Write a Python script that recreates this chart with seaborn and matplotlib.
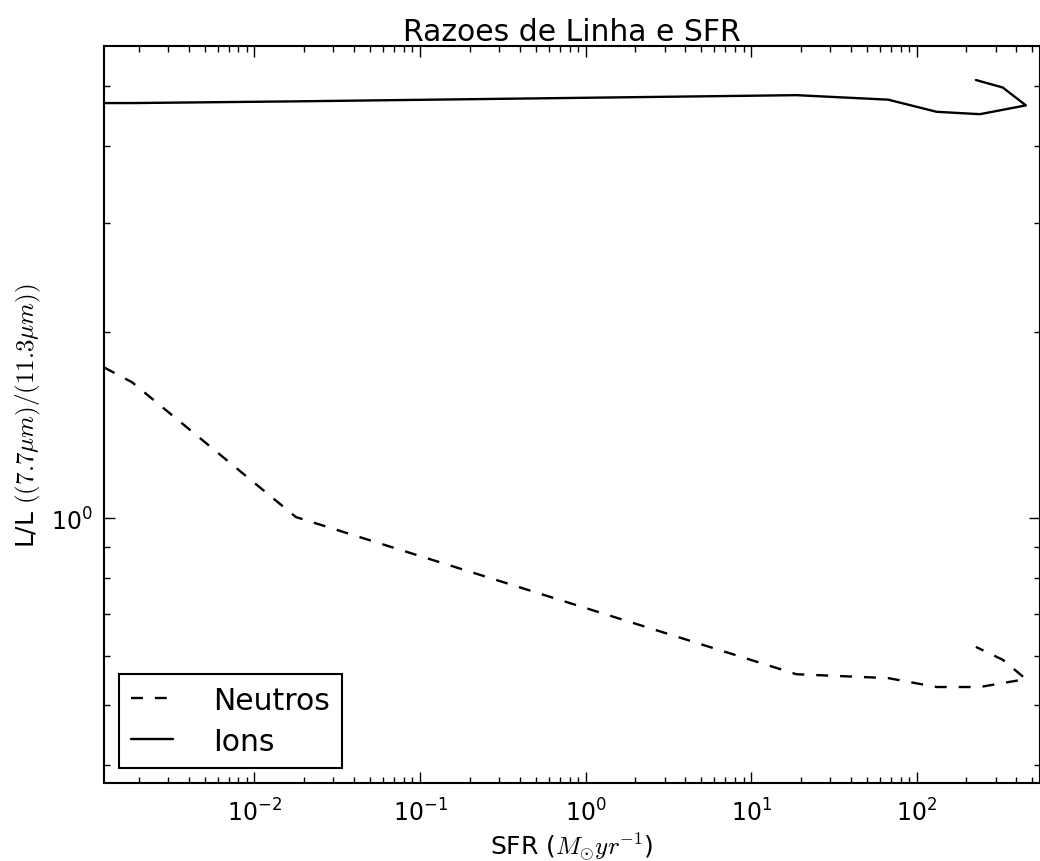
import numpy as np
import pandas as pd
import seaborn as sns
import matplotlib
matplotlib.use('Agg')
import matplotlib.pyplot as plt
from matplotlib.ticker import NullFormatter

# valores
sfr = [1.233e-3, 1.82e-3, 0.0178, 18.8, 67.2, 132.0, 241.0, 457.0, 331.0, 228.0]
neutros = [1.754, 1.66, 1.005, 0.560, 0.552, 0.534, 0.534, 0.550, 0.591, 0.620]
ions = [4.69, 4.69, 4.72, 4.83, 4.75, 4.54, 4.50, 4.65, 4.97, 5.11]

sns.set_style('white')
plt.rcParams['mathtext.fontset'] = 'cm'
plt.rcParams['lines.scale_dashes'] = False
plt.rcParams['axes.unicode_minus'] = False
plt.rcParams['font.family'] = ['DejaVu Sans']
plt.rcParams['text.color'] = 'black'
plt.rcParams['axes.labelcolor'] = 'black'

df = pd.DataFrame({'SFR': sfr, 'Neutros': neutros, 'Ions': ions})

fig = plt.figure(figsize=(10.4, 8.62), dpi=100)
ax = fig.add_axes([0.1, 0.0908, 0.9, 0.8547])

sns.lineplot(data=df, x='SFR', y='Neutros', sort=False, estimator=None, ax=ax,
             color='black', lw=1.7, label='Neutros')
sns.lineplot(data=df, x='SFR', y='Ions', sort=False, estimator=None, ax=ax,
             color='black', lw=1.7, label='Ions')
ax.lines[0].set_dashes((8.6, 8.6))

ax.set_xscale('log')
ax.set_yscale('log')
ax.set_xlim(1.233e-3, 556)
ax.set_ylim(0.374, 5.8)
ax.yaxis.set_minor_formatter(NullFormatter())
ax.xaxis.set_minor_formatter(NullFormatter())

for s in ax.spines.values():
    s.set_color('black')
    s.set_linewidth(1.5)
ax.tick_params(which='both', direction='in', top=True, right=True,
               left=True, bottom=True, colors='black', labelsize=17)
ax.tick_params(which='major', length=8, width=1)
ax.tick_params(which='minor', length=4, width=1)
ax.tick_params(axis='x', which='major', pad=11)
ax.tick_params(axis='y', which='major', pad=8)

ax.set_title('Razoes de Linha e SFR', fontsize=21.5, pad=4)
ax.set_xlabel(r'SFR ($M_{\odot} yr^{-1}$)', fontsize=18)
ax.xaxis.set_label_coords(0.5, -0.087)
ax.xaxis.label.set_va('center')
ax.set_ylabel(r'L/L $((7.7\mu m)/(11.3\mu m))$', fontsize=18, labelpad=6)

leg = ax.legend(loc='lower left', fontsize=21.5, fancybox=False, framealpha=1,
                edgecolor='black', handlelength=1.4, handletextpad=1.35,
                borderaxespad=0.5, labelspacing=0.4, borderpad=0.4)
leg.get_frame().set_linewidth(1.5)
leg.legend_handles[0].set_dashes((8.6, 8.6))

fig.savefig('out.png', dpi=100)
